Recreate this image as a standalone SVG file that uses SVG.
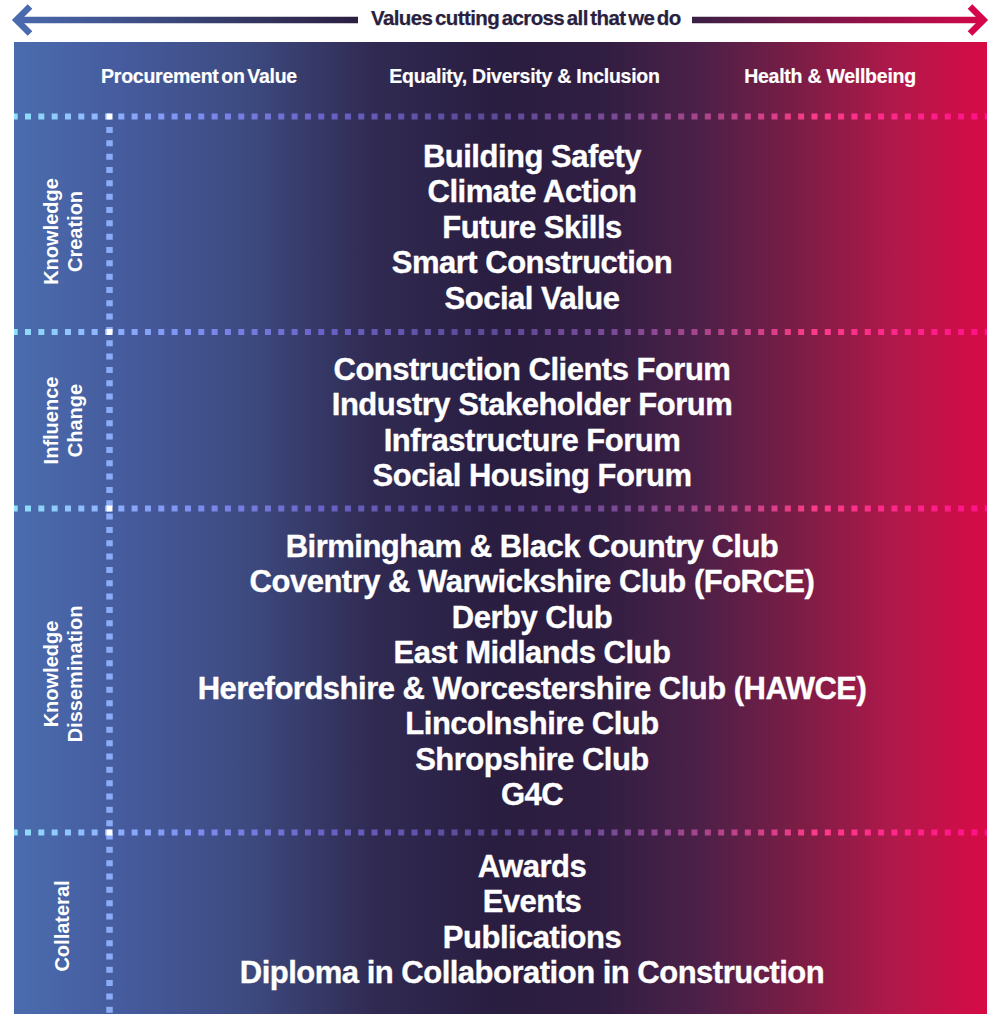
<svg xmlns="http://www.w3.org/2000/svg" width="999" height="1014" viewBox="0 0 999 1014">
<style>
.t{font-family:"Liberation Sans",Arial,sans-serif;font-weight:700;fill:#ffffff;}
.main{font-size:31px;text-anchor:middle;letter-spacing:-0.5px;stroke:#ffffff;stroke-width:0.35px;}
.hdr{font-size:19.5px;text-anchor:middle;letter-spacing:-0.25px;stroke:#ffffff;stroke-width:0.2px;}
.side{font-size:20px;text-anchor:middle;}
.title{font-family:"Liberation Sans",Arial,sans-serif;font-weight:700;font-size:20.5px;fill:#2a1f40;stroke:#2a1f40;stroke-width:0.25px;letter-spacing:-0.6px;word-spacing:-2.5px;}
.hdots{fill:none;stroke:url(#dots);stroke-width:6;stroke-dasharray:6 7.33;stroke-dashoffset:2.33;}
.vdots{fill:none;stroke:#8aacf8;stroke-width:6.5;stroke-dasharray:6 7.33;}
.arr{fill:none;stroke-width:6.5;stroke-linejoin:miter;stroke-miterlimit:10;}
</style>
<defs>
<linearGradient id="bg" gradientUnits="userSpaceOnUse" x1="14" y1="0" x2="987" y2="0">
<stop offset="0" stop-color="#4a6cae"/>
<stop offset="0.12" stop-color="#455a9c"/>
<stop offset="0.24" stop-color="#3d4a80"/>
<stop offset="0.37" stop-color="#302a52"/>
<stop offset="0.5" stop-color="#291d40"/>
<stop offset="0.6" stop-color="#301e42"/>
<stop offset="0.705" stop-color="#4c2048"/>
<stop offset="0.808" stop-color="#7c1d45"/>
<stop offset="0.91" stop-color="#b2184a"/>
<stop offset="1" stop-color="#d80a46"/>
</linearGradient>
<linearGradient id="dots" gradientUnits="userSpaceOnUse" x1="14" y1="0" x2="987" y2="0">
<stop offset="0" stop-color="#8fe0fa"/>
<stop offset="0.088" stop-color="#8fb5ff"/>
<stop offset="0.19" stop-color="#7c8cf0"/>
<stop offset="0.325" stop-color="#6a5fc4"/>
<stop offset="0.48" stop-color="#5a4a98"/>
<stop offset="0.62" stop-color="#7a4a96"/>
<stop offset="0.725" stop-color="#b24488"/>
<stop offset="0.828" stop-color="#ff3a8a"/>
<stop offset="1" stop-color="#ff1088"/>
</linearGradient>
<linearGradient id="arrL" gradientUnits="userSpaceOnUse" x1="12" y1="0" x2="358" y2="0">
<stop offset="0" stop-color="#4a6aae"/>
<stop offset="1" stop-color="#2a1f40"/>
</linearGradient>
<linearGradient id="arrR" gradientUnits="userSpaceOnUse" x1="692" y1="0" x2="990" y2="0">
<stop offset="0" stop-color="#3a1f45"/>
<stop offset="1" stop-color="#d4074a"/>
</linearGradient>
</defs>

<rect id="panel" x="14" y="42" width="973" height="972" fill="url(#bg)"/>

<g id="connectors">
<line class="arr" x1="20" y1="20" x2="358" y2="20" stroke="url(#arrL)"/>
<polyline class="arr" points="30,6.5 16.5,20 30,33.5" stroke="#4a6aae"/>
<line class="arr" x1="692" y1="20" x2="982" y2="20" stroke="url(#arrR)"/>
<polyline class="arr" points="970,6.5 983.5,20 970,33.5" stroke="#d4074a"/>
</g>
<text id="title" class="title" x="371" y="25">Values cutting across all that we do</text>

<g id="grid">
<line class="hdots" x1="14" y1="116.5" x2="987" y2="116.5"/>
<line class="hdots" x1="14" y1="332" x2="987" y2="332"/>
<line class="hdots" x1="14" y1="508.5" x2="987" y2="508.5"/>
<line class="hdots" x1="14" y1="832.5" x2="987" y2="832.5"/>
<line class="vdots" x1="109.5" y1="127" x2="109.5" y2="1014"/>
<rect x="106.5" y="113.5" width="6" height="6" fill="#ffffff"/>
<rect x="106.5" y="329" width="6" height="6" fill="#ffffff"/>
<rect x="106.5" y="505.5" width="6" height="6" fill="#ffffff"/>
<rect x="106.5" y="829.5" width="6" height="6" fill="#ffffff"/>
</g>

<g id="values">
<text class="t hdr" x="199" y="83" word-spacing="-2.5">Procurement on Value</text>
<text class="t hdr" x="524.5" y="83">Equality, Diversity &amp; Inclusion</text>
<text class="t hdr" x="830" y="83">Health &amp; Wellbeing</text>
</g>

<g id="knowledge-creation">
<text class="t side" transform="translate(58,231.5) rotate(-90)">Knowledge</text>
<text class="t side" transform="translate(81.5,231.5) rotate(-90)">Creation</text>
<text class="t main" x="532" y="166.5">Building Safety</text>
<text class="t main" x="532" y="202">Climate Action</text>
<text class="t main" x="532" y="237.5">Future Skills</text>
<text class="t main" x="532" y="273">Smart Construction</text>
<text class="t main" x="532" y="308.5">Social Value</text>
</g>

<g id="influence-change">
<text class="t side" transform="translate(58,420.5) rotate(-90)">Influence</text>
<text class="t side" transform="translate(81.5,420.5) rotate(-90)">Change</text>
<text class="t main" x="532" y="379.5">Construction Clients Forum</text>
<text class="t main" x="532" y="415">Industry Stakeholder Forum</text>
<text class="t main" x="532" y="450.5">Infrastructure Forum</text>
<text class="t main" x="532" y="486">Social Housing Forum</text>
</g>

<g id="knowledge-dissemination">
<text class="t side" transform="translate(58,674) rotate(-90)">Knowledge</text>
<text class="t side" transform="translate(81.5,674) rotate(-90)">Dissemination</text>
<text class="t main" x="532" y="556.5">Birmingham &amp; Black Country Club</text>
<text class="t main" x="532" y="592">Coventry &amp; Warwickshire Club (FoRCE)</text>
<text class="t main" x="532" y="627.5">Derby Club</text>
<text class="t main" x="532" y="663">East Midlands Club</text>
<text class="t main" x="532" y="698.5">Herefordshire &amp; Worcestershire Club (HAWCE)</text>
<text class="t main" x="532" y="734">Lincolnshire Club</text>
<text class="t main" x="532" y="769.5">Shropshire Club</text>
<text class="t main" x="532" y="805">G4C</text>
</g>

<g id="collateral">
<text class="t side" transform="translate(69,926) rotate(-90)">Collateral</text>
<text class="t main" x="532" y="876.5">Awards</text>
<text class="t main" x="532" y="912">Events</text>
<text class="t main" x="532" y="947.5">Publications</text>
<text class="t main" x="532" y="983">Diploma in Collaboration in Construction</text>
</g>
</svg>
